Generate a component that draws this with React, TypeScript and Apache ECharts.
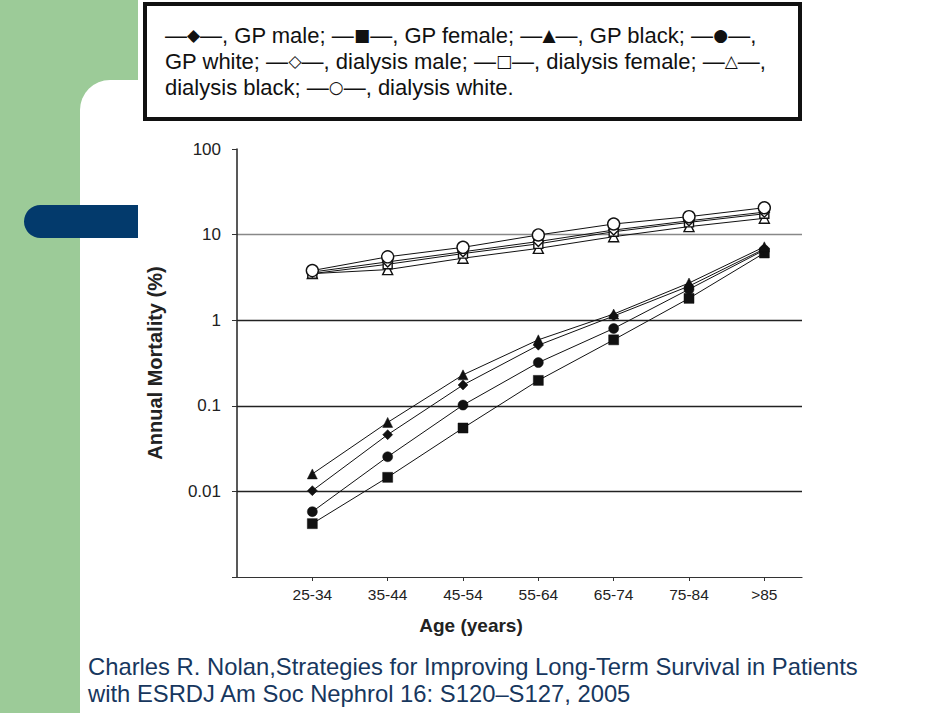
import React, { useEffect, useRef } from "react";
import * as echarts from "echarts";

const categories = ["25-34", "35-44", "45-54", "55-64", "65-74", "75-84", ">85"];
const gpMale = [0.0102, 0.046, 0.175, 0.51, 1.12, 2.5, 6.8];
const gpFemale = [0.0042, 0.0146, 0.055, 0.198, 0.59, 1.8, 6.1];
const gpBlack = [0.016, 0.064, 0.23, 0.59, 1.18, 2.72, 7.2];
const gpWhite = [0.0058, 0.0254, 0.102, 0.32, 0.8, 2.3, 6.6];
const dialysisMale = [3.65, 4.8, 6.3, 8.3, 11.3, 14.5, 18.3];
const dialysisFemale = [3.5, 4.5, 6.0, 7.8, 10.8, 13.9, 17.5];
const dialysisBlack = [3.5, 3.9, 5.3, 6.9, 9.45, 12.4, 15.5];
const dialysisWhite = [3.8, 5.5, 7.1, 9.9, 13.3, 16.2, 20.6];
const yTickLabels = ["0.01", "0.1", "1", "10", "100"];

const legendLines = [
  "—◆—, GP male; —■—, GP female; —▲—, GP black; —●—,",
  "GP white; —◇—, dialysis male; —□—, dialysis female; —△—,",
  "dialysis black; —○—, dialysis white.",
];
const citationLines = [
  "Charles R. Nolan,Strategies for Improving Long-Term Survival in Patients",
  "with ESRDJ Am Soc Nephrol 16: S120–S127, 2005",
];

const FONT = "'Liberation Sans', 'DejaVu Sans', Arial, sans-serif";

function mk(name: string, values: number[], symbol: string, filled: boolean, size: number) {
  return {
    name,
    type: "line",
    data: values.map((v, i) => [i + 1, v]),
    symbol,
    symbolSize: size,
    showAllSymbol: true,
    lineStyle: { color: "#111", width: 1 },
    itemStyle: filled
      ? { color: "#111", borderColor: "#111", borderWidth: 0.5 }
      : { color: "#fff", borderColor: "#111", borderWidth: 1.4 },
    emphasis: { disabled: true },
    z: filled ? 3 : 4,
  };
}

export default function App() {
  const ref = useRef<HTMLDivElement>(null);
  useEffect(() => {
    if (!ref.current) return;
    const chart = echarts.init(ref.current, undefined, { renderer: "svg" });
    const option: any = {
      animation: false,
      backgroundColor: "#fff",
      grid: { left: 237, right: 148, top: 149, bottom: 136, containLabel: false },
      xAxis: {
        type: "value",
        min: 0,
        max: 7.5,
        interval: 1,
        splitLine: { show: false },
        axisLine: { lineStyle: { color: "#333", width: 1.2 } },
        axisTick: {
          show: true,
          length: 4,
          customValues: categories.map((_, i) => i + 1),
          lineStyle: { color: "#333" },
        },
        axisLabel: {
          customValues: categories.map((_, i) => i + 1),
          formatter: (v: number) => categories[Math.round(v) - 1] ?? "",
          color: "#222",
          fontSize: 15.5,
          fontFamily: FONT,
          margin: 9,
        },
      },
      yAxis: {
        type: "log",
        logBase: 10,
        min: 0.001,
        max: 100,
        name: "Annual Mortality (%)",
        nameLocation: "middle",
        nameGap: 72,
        nameRotate: 90,
        nameTextStyle: { fontFamily: FONT, fontWeight: "bold", fontSize: 20, color: "#222" },
        axisLine: { show: true, lineStyle: { color: "#222", width: 1.5 } },
        axisTick: { show: true, length: 5, lineStyle: { color: "#333" } },
        axisLabel: {
          formatter: (v: number) => {
            const idx = Math.round(Math.log10(v)) + 2;
            return idx >= 0 && idx < yTickLabels.length ? yTickLabels[idx] : "";
          },
          color: "#222",
          fontSize: 17,
          fontFamily: FONT,
          margin: 16,
        },
        splitLine: {
          show: true,
          lineStyle: {
            color: ["rgba(0,0,0,0)", "#222", "#222", "#222", "#888", "rgba(0,0,0,0)"],
            width: 1.3,
          },
        },
      },
      graphic: [
        { type: "rect", z: -30, silent: true, shape: { x: 0, y: 0, width: 138, height: 713 }, style: { fill: "#9ccb98" } },
        { type: "rect", z: -20, silent: true, shape: { x: 80, y: 80, width: 870, height: 633, r: [30, 0, 0, 0] }, style: { fill: "#fff" } },
        { type: "rect", z: -10, silent: true, shape: { x: 24, y: 205, width: 114, height: 33, r: [16.5, 0, 0, 16.5] }, style: { fill: "#033a6c" } },
        { type: "rect", silent: true, shape: { x: 145, y: 4, width: 655, height: 115 }, style: { fill: "#fff", stroke: "#111", lineWidth: 4 } },
        ...legendLines.map((t, i) => ({
          type: "text",
          silent: true,
          x: 165,
          y: 35 + i * 26,
          style: {
            text: t.replace(/([◆■▲●◇□△○])/g, "{s|$1}"),
            fill: "#111",
            font: `22px ${FONT}`,
            verticalAlign: "middle",
            rich: { s: { fontFamily: "'DejaVu Sans'", fontSize: 17, fill: "#111" } },
          },
        })),
        {
          type: "text",
          silent: true,
          x: 471,
          y: 625,
          style: { text: "Age (years)", fill: "#222", font: `bold 19px ${FONT}`, align: "center", verticalAlign: "middle" },
        },
        ...citationLines.map((t, i) => ({
          type: "text",
          silent: true,
          x: 88,
          y: 666 + i * 27,
          style: { text: t, fill: "#17375e", font: `23.8px ${FONT}`, verticalAlign: "middle" },
        })),
      ],
      series: [
        mk("dialysis black", dialysisBlack, "triangle", false, 10),
        mk("dialysis female", dialysisFemale, "rect", false, 9),
        mk("dialysis male", dialysisMale, "diamond", false, 10),
        mk("dialysis white", dialysisWhite, "circle", false, 12),
        mk("GP female", gpFemale, "rect", true, 10),
        mk("GP white", gpWhite, "circle", true, 10),
        mk("GP male", gpMale, "diamond", true, 10),
        mk("GP black", gpBlack, "triangle", true, 10),
      ],
    };
    chart.setOption(option);
    return () => chart.dispose();
  }, []);
  return (
    <div
      ref={ref}
      style={{ position: "absolute", left: 0, top: 0, width: 950, height: 713 }}
    />
  );
}
